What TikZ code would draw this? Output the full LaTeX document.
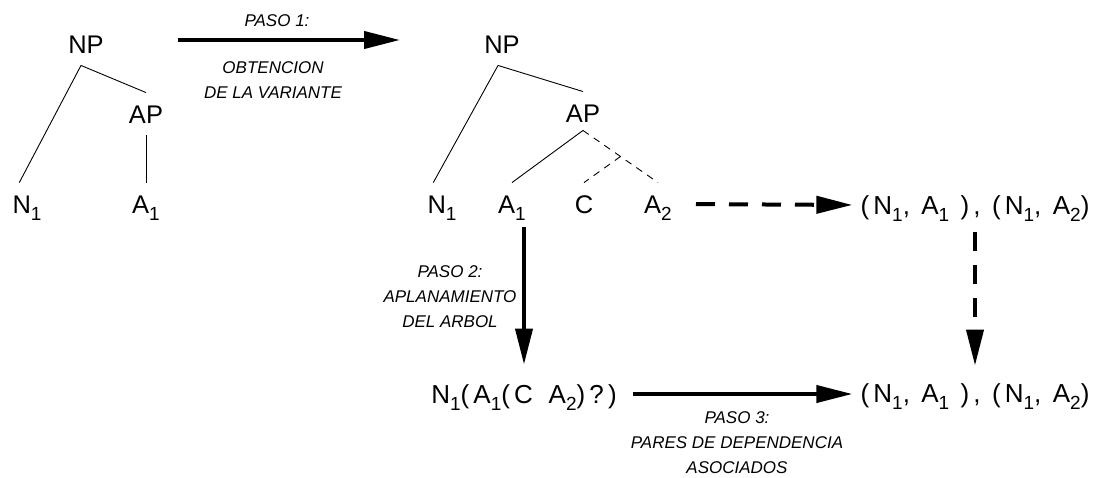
\documentclass[tikz,border=0pt]{standalone}
\usepackage{fontspec}
\setmainfont{Liberation Sans}
\newfontfamily\symfont{Liberation Sans}[LetterSpace=16]
\usetikzlibrary{arrows.meta}
\newcommand{\lsub}[1]{\raisebox{-7pt}{\fontsize{19}{19}\selectfont #1}}
\tikzset{
  sym/.style={font=\symfont\fontsize{26}{26}\selectfont, inner sep=0pt, text height=18.5pt, text depth=0pt},
  treenode/.style={sym, font=\fontsize{25.5}{26}\selectfont, inner ysep=12pt},
  branch/.style={line width=0.9pt},
  optbranch/.style={branch, dash pattern=on 7pt off 6pt},
  bigarrow/.style={line width=4pt, -{Triangle[length=36pt,width=17pt]}},
  dasharrow/.style={bigarrow, dash pattern=on 19pt off 14pt},
  steplabel/.style={font=\itshape\fontsize{17}{25}\selectfont, align=center, inner sep=0pt},
}

\begin{document}
\begin{tikzpicture}[x=1pt,y=-1pt]
\useasboundingbox (0,0) rectangle (1097,477);

% arbol original
\node[treenode] (np1) at (86,44) {NP};
\node[treenode] (ap1) at (146,114) {AP};
\node[treenode] (n1) at (27,204) {N\lsub{1}};
\node[treenode] (a1) at (146,204) {A\lsub{1}};
\draw[branch] ([xshift=-5pt]np1.south) -- ([xshift=7pt]n1.north west);
\draw[branch] ([xshift=-5pt]np1.south) -- (ap1.north);
\draw[branch] (ap1.south) -- (a1.north);

% paso 1
\coordinate (p1s) at (178,40);
\coordinate (p1e) at (400,40);
\draw[bigarrow] (p1s) -- (p1e);
\node[steplabel] (lab1a) at (277,21) {PASO 1:};
\node[steplabel] (lab1b) at (273,80) {OBTENCION\\DE LA VARIANTE};

% variante
\node[treenode] (np2) at (502,44) {NP};
\node[treenode] (ap2) at (583,113) {AP};
\node[treenode] (n2) at (442,204) {N\lsub{1}};
\node[treenode] (a2) at (512,204) {A\lsub{1}};
\node[treenode] (c2) at (584,204) {C};
\node[treenode] (a22) at (658,204) {A\lsub{2}};
\draw[branch] ([xshift=-4pt]np2.south) -- ([xshift=6pt]n2.north west);
\draw[branch] ([xshift=-4pt]np2.south) -- (ap2.north);
\draw[branch] ([yshift=4pt]ap2.south) -- (a2.north);
\draw[optbranch] ([yshift=4pt]ap2.south) -- coordinate[pos=0.5] (mid) (a22.north);
\draw[optbranch] (mid) -- (c2.north);

% pares
\node[sym] (pair1) at (975,205) {(N\lsub{1}, A\lsub{1} ), (N\lsub{1}, A\lsub{2})};
\node[sym] (pair2) at (975,393) {(N\lsub{1}, A\lsub{1} ), (N\lsub{1}, A\lsub{2})};
\node[sym] (flat) at (524,394) {N\lsub{1}(A\lsub{1}(C\, A\lsub{2})?)};

\draw[dasharrow, shorten <=24pt, shorten >=8pt] (a22.east) -- (pair1.west);
\draw[dasharrow, shorten <=18pt, shorten >=18pt] (pair1.south) -- (pair2.north);

% paso 2
\draw[bigarrow, shorten <=2pt, shorten >=20pt] (flat.north |- a2.south) -- (flat.north);
\node[steplabel] (lab2) at (450,297) {PASO 2:\\APLANAMIENTO\\DEL ARBOL};

% paso 3
\draw[bigarrow, shorten <=16pt, shorten >=8pt] (flat.east) -- (flat.east -| pair2.west);
\node[steplabel] (lab3) at (737,443) {PASO 3:\\PARES DE DEPENDENCIA\\ASOCIADOS};
\end{tikzpicture}
\end{document}
